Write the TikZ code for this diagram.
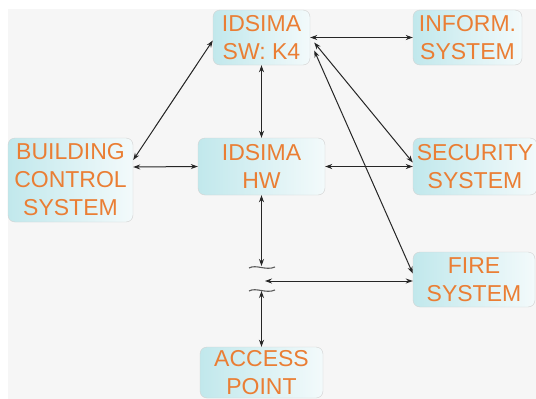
\documentclass[tikz,border=0pt]{standalone}
\usepackage{fontspec}
\setmainfont{Liberation Sans}
\usetikzlibrary{arrows.meta}
\definecolor{boxtext}{RGB}{234,126,52}
\definecolor{boxleft}{RGB}{193,232,236}
\definecolor{boxright}{RGB}{243,250,251}
\definecolor{paper}{RGB}{246,246,246}

\begin{document}
\begin{tikzpicture}[x=1pt, y=-1pt,
    box/.style={draw=gray!35, rounded corners=7pt, left color=boxleft, right color=boxright,
      text=boxtext, align=center, inner sep=0pt, font=\fontsize{23}{28}\selectfont},
    link/.style={{Stealth[length=7pt,width=5pt]}-{Stealth[length=7pt,width=5pt]},
      draw=black!85, line width=1pt},
    cut/.style={draw=black!65, line width=1.1pt}]
    \useasboundingbox (0,0) rectangle (536,399);
    \fill[paper] (8,9) rectangle (536,399);

    % boxes
    \node[box, minimum width=97pt, minimum height=55pt] (sw) at (261.5,37.5) {IDSIMA\\SW: K4};
    \node[box, minimum width=109pt, minimum height=55pt] (inform) at (467.5,37.5) {INFORM.\\SYSTEM};
    \node[box, minimum width=125pt, minimum height=84pt] (bcs) at (70.5,180) {BUILDING\\CONTROL\\SYSTEM};
    \node[box, minimum width=127pt, minimum height=57pt] (hw) at (261.5,166.5) {IDSIMA\\HW};
    \node[box, minimum width=124pt, minimum height=57pt] (security) at (475,166.5) {SECURITY\\SYSTEM};
    \node[box, minimum width=122pt, minimum height=55pt] (fire) at (474,279.5) {FIRE\\SYSTEM};
    \node[box, minimum width=123pt, minimum height=51pt] (access) at (261.5,372.5) {ACCESS\\POINT};

    % break in the line to the access point
    \coordinate (cut top) at (261.5,266);
    \coordinate (cut bot) at (261.5,291);
    \coordinate (cut mid) at (265,281);
    \draw[cut] (249,268) .. controls (256,264) and (266,271) .. (275,267);
    \draw[cut] (249,291) .. controls (256,287) and (266,294) .. (275,290);

    % links
    \draw[link] ([yshift=-3pt]sw.west) -- ([yshift=20pt]bcs.east);
    \draw[link] (sw.east) -- (inform.west);
    \draw[link] (sw.south) -- (hw.north);
    \draw[link] ([xshift=4pt,yshift=-5pt]sw.east) -- ([yshift=4pt]security.west);
    \draw[link] ([xshift=4pt,yshift=-13pt]sw.east) -- ([yshift=6pt]fire.west);
    \draw[link] ([yshift=13pt]bcs.east) -- (hw.west);
    \draw[link] (hw.east) -- (security.west);
    \draw[link] (hw.south) -- (cut top);
    \draw[link] (cut bot) -- (access.north);
    \draw[link] (cut mid) -- ([yshift=-1.5pt]fire.west);
\end{tikzpicture}
\end{document}
